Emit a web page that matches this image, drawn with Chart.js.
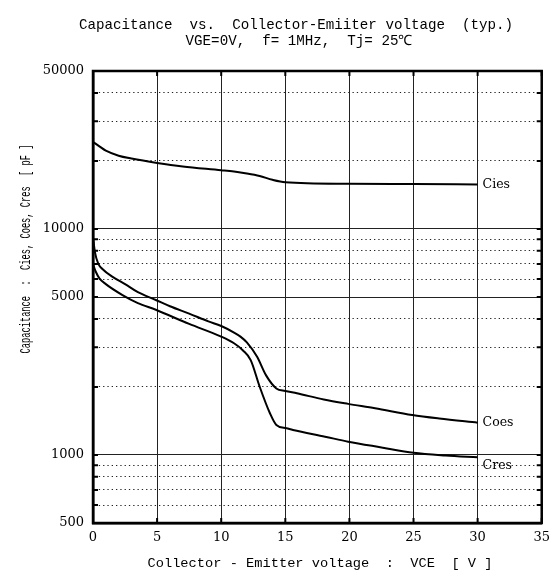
<!DOCTYPE html>
<html>
<head>
<meta charset="utf-8">
<script src="https://cdn.jsdelivr.net/npm/chart.js@4.4.1/dist/chart.umd.min.js"></script>
<style>
  html, body { margin: 0; padding: 0; background: #fff; }
  #wrap { width: 557px; height: 581px; }
</style>
</head>
<body>
<div id="wrap"><canvas id="capChart" width="557" height="581"></canvas></div>
<script>
// values (VCE in V, capacitance in pF)
const ciesVce = [0, 0.5, 1, 2, 3, 5, 7, 10, 11, 12, 13, 14, 15, 20, 25, 30];
const ciesPf = [24300, 23200, 22200, 21100, 20500, 19600, 18900, 18200, 17950, 17600, 17150, 16500, 16100, 15850, 15800, 15750];

const coesVce = [0, 0.15, 0.4, 0.8, 1.5, 2.5, 3.5, 4.9, 6, 7.5, 9, 10, 11, 11.5, 12, 12.8, 13.5, 14.3, 15, 15.9, 18, 19.9, 22, 24.9, 27, 30];
const coesPf = [9200, 7900, 7050, 6600, 6150, 5700, 5250, 4850, 4550, 4220, 3900, 3720, 3480, 3340, 3150, 2720, 2250, 1970, 1920, 1875, 1760, 1683, 1610, 1503, 1450, 1390];

const cresVce = [0, 0.2, 0.5, 1, 2.3, 3.5, 4.9, 7.5, 10, 11, 11.7, 12.3, 13, 13.8, 14.3, 15.1, 15.6, 18.1, 19.9, 22.5, 25, 27.5, 30];
const cresPf = [7000, 6500, 6050, 5700, 5100, 4700, 4390, 3800, 3340, 3120, 2900, 2630, 2005, 1530, 1358, 1313, 1290, 1205, 1145, 1080, 1023, 995, 977];

const xTicks = [0, 5, 10, 15, 20, 25, 30, 35];
const yGridValues = [500, 600, 700, 800, 900, 1000, 2000, 3000, 4000, 5000, 6000, 7000, 8000, 9000, 10000, 20000, 30000, 40000, 50000];
const yLabelValues = [500, 1000, 5000, 10000, 50000];
const ySolidValues = [500, 1000, 5000, 10000, 50000];

const titleLines = ["Capacitance  vs.  Collector-Emiiter voltage  (typ.)", "VGE=0V,  f= 1MHz,  Tj= 25\u2103"];
const xTitle = "Collector - Emitter voltage  :  VCE  [ V ]";
const yTitle = "Capacitance  :  Cies, Coes, Cres  [ pF ]";

function toPoints(xs, ys) {
    return xs.map((v, i) => ({ x: v, y: ys[i] }));
}

function makeSeries(label, xs, ys, labelShift) {
    return {
        label: label,
        data: toPoints(xs, ys),
        borderColor: "#000",
        borderWidth: 2,
        pointRadius: 0,
        fill: false,
        cubicInterpolationMode: "monotone",
        labelShift: labelShift
    };
}

// frame, inward tick marks, curve names and all titles
const frameAndText = {
    id: "frameAndText",
    afterDraw(chart) {
        const { ctx, chartArea: a, scales } = chart;
        const x = scales.x, y = scales.y;
        ctx.save();
        ctx.strokeStyle = "#000";
        ctx.lineWidth = 2.5;
        ctx.strokeRect(a.left, a.top, a.right - a.left, a.bottom - a.top);

        ctx.lineWidth = 2;
        ctx.beginPath();
        yGridValues.forEach(v => {
            const py = y.getPixelForValue(v);
            ctx.moveTo(a.left, py); ctx.lineTo(a.left + 5, py);
            ctx.moveTo(a.right, py); ctx.lineTo(a.right - 5, py);
        });
        xTicks.forEach(v => {
            const px = x.getPixelForValue(v);
            ctx.moveTo(px, a.top); ctx.lineTo(px, a.top + 5);
            ctx.moveTo(px, a.bottom); ctx.lineTo(px, a.bottom - 5);
        });
        ctx.stroke();

        ctx.fillStyle = "#000";
        ctx.font = '12.5px "DejaVu Serif"';
        ctx.textAlign = "left";
        ctx.textBaseline = "middle";
        chart.data.datasets.forEach(ds => {
            const last = ds.data[ds.data.length - 1];
            ctx.fillText(ds.label, x.getPixelForValue(last.x) + 5, y.getPixelForValue(last.y) + ds.labelShift);
        });

        ctx.textAlign = "center";
        ctx.font = '14.2px "Liberation Mono"';
        ctx.fillText(titleLines[0], 296, 25);
        ctx.fillText(titleLines[1], 299, 41);

        ctx.font = '13.7px "Liberation Mono"';
        ctx.fillText(xTitle, 320, 563);

        ctx.translate(26, 249);
        ctx.rotate(-Math.PI / 2);
        ctx.scale(0.58, 1);
        ctx.font = '15px "Liberation Mono"';
        ctx.fillText(yTitle, 0, 0);
        ctx.restore();
    }
};

let ctx = document.getElementById("capChart").getContext("2d");
let capChart = new Chart(ctx, {
    type: "line",
    data: {
        datasets: [
            makeSeries("Cies", ciesVce, ciesPf, 0),
            makeSeries("Coes", coesVce, coesPf, 0),
            makeSeries("Cres", cresVce, cresPf, 8)
        ]
    },
    options: {
        responsive: false,
        animation: false,
        devicePixelRatio: 1,
        layout: { padding: { top: 71, right: 9, left: 0, bottom: 0 } },
        plugins: {
            legend: { display: false },
            tooltip: { enabled: false },
            title: { display: false }
        },
        scales: {
            x: {
                type: "linear",
                min: 0,
                max: 35,
                afterBuildTicks: scale => { scale.ticks = xTicks.map(v => ({ value: v })); },
                afterFit: scale => { scale.height = 58; },
                ticks: {
                    autoSkip: false,
                    maxRotation: 0,
                    padding: 7,
                    color: "#000",
                    font: { family: "DejaVu Serif", size: 13 }
                },
                grid: { color: "#222", lineWidth: 1, drawTicks: false },
                border: { color: "#000", width: 2.5 }
            },
            y: {
                type: "logarithmic",
                min: 500,
                max: 50000,
                afterBuildTicks: scale => { scale.ticks = yGridValues.map(v => ({ value: v })); },
                afterFit: scale => { scale.width = 93; },
                ticks: {
                    autoSkip: false,
                    padding: 9,
                    color: "#000",
                    font: { family: "DejaVu Serif", size: 13 },
                    callback: value => yLabelValues.includes(value) ? String(value) : ""
                },
                grid: { color: "#222", lineWidth: 1, drawTicks: false },
                border: {
                    color: "#000",
                    width: 2.5,
                    dash: c => (c.tick && !ySolidValues.includes(c.tick.value)) ? [1.3, 3] : []
                }
            }
        }
    },
    plugins: [frameAndText]
});
</script>
</body>
</html>
